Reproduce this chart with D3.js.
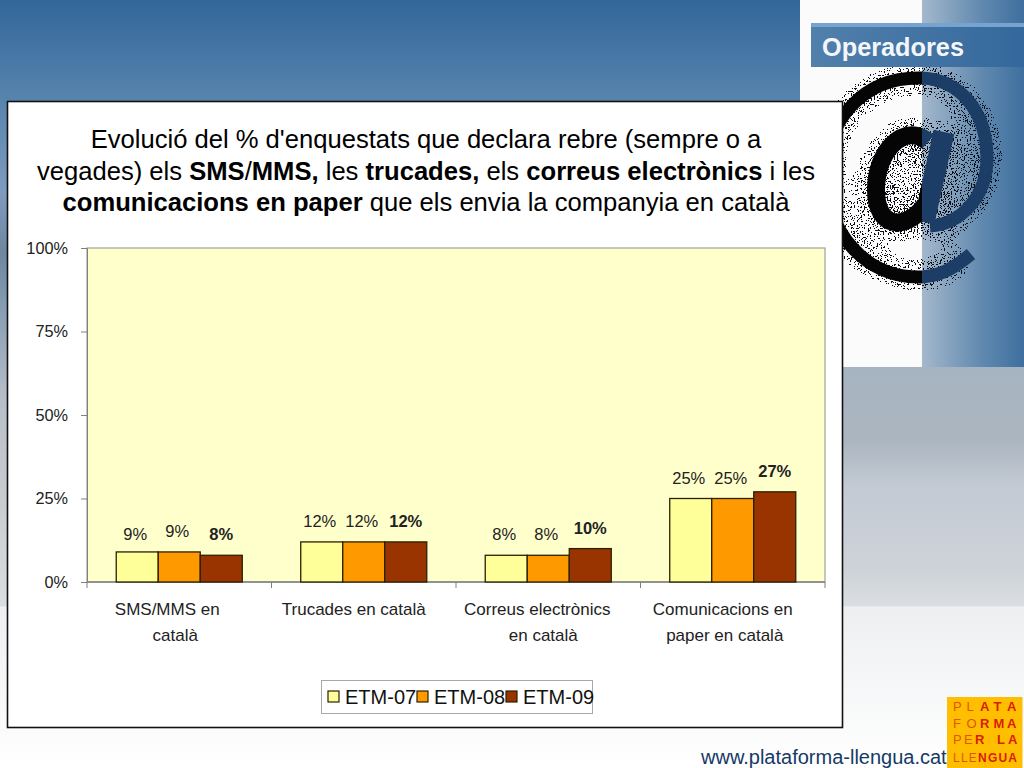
<!DOCTYPE html>
<html>
<head>
<meta charset="utf-8">
<script src="https://cdn.jsdelivr.net/npm/d3@7"></script>
<style>
  html, body { margin: 0; padding: 0; background: #fff; overflow: hidden; }
  text { font-family: "Liberation Sans", Arial, sans-serif; }
</style>
</head>
<body>
<div id="chart"></div>
<script>
// Chart data
var categories = ['SMS/MMS en|català', 'Trucades en català', 'Correus electrònics|en català', 'Comunicacions en|paper en català'];
var seriesNames = ['ETM-07', 'ETM-08', 'ETM-09'];
var etm07 = [9, 12, 8, 25];
var etm08 = [9, 12, 8, 25];
var etm09 = [8, 12, 10, 27];
var seriesValues = [etm07, etm08, etm09];
var seriesColors = ['#FFFF99', '#FF9900', '#993300'];
var yTicks = [0, 25, 50, 75, 100];

// Title lines, each a list of [text, bold]
var titleLines = [
  [["Evolució del % d'enquestats que declara rebre (sempre o a", false]],
  [["vegades) els ", false], ["SMS", true], ["/", false], ["MMS,", true], [" les ", false], ["trucades,", true], [" els ", false], ["correus electrònics", true], [" i les", false]],
  [["comunicacions en paper", true], [" que els envia la companyia en català", false]]
];
var logoLines = [
  [['P', 0], ['L', 0], ['A', 1], ['T', 1], ['A', 1]],
  [['F', 0], ['O', 0], ['R', 1], ['M', 1], ['A', 1]],
  [['P', 0], ['E', 0], ['R', 1], [' ', 0], ['L', 1], ['A', 1]]
];

var svg = d3.select('#chart').append('svg')
    .attr('width', 1024)
    .attr('height', 768)
    .style('display', 'block');
var defs = svg.append('defs');

function gradient(id, x2, y2, stops) {
  var g = defs.append('linearGradient').attr('id', id)
      .attr('x1', 0).attr('y1', 0).attr('x2', x2).attr('y2', y2);
  stops.forEach(function(s) {
    g.append('stop').attr('offset', s[0]).attr('stop-color', s[1]);
  });
}
gradient('skyGrad', 0, 1, [[0, '#33669B'], [0.13, '#5784AD'], [0.25, '#7F9CBF'], [0.33, '#6E879F'], [0.39, '#829AB0'], [0.52, '#B8BEC8'], [0.65, '#C8CCD0'], [0.789, '#DADEE1'], [0.79, '#EDEFF1'], [1, '#FFFFFF']]);
gradient('sideGrad', 1, 0, [[0, '#A4B8CC'], [0.6, '#5F88AE'], [1, '#3E6F9F']]);
gradient('lowGrad', 0, 1, [[0, '#A6B4C1'], [0.3, '#ABB5BF'], [0.5, '#C3CAD4'], [0.85, '#CED3D8'], [1, '#DADEE1']]);
gradient('barGrad', 1, 0, [[0, '#5280AC'], [1, '#34689C']]);
defs.append('filter').attr('id', 'blur').append('feGaussianBlur').attr('stdDeviation', 14);

// Speckle around the @: blurred shape alpha multiplied by thresholded noise
var speckle = defs.append('filter').attr('id', 'speckle')
    .attr('filterUnits', 'userSpaceOnUse')
    .attr('x', 800).attr('y', 40).attr('width', 224).attr('height', 327);
speckle.append('feGaussianBlur').attr('in', 'SourceAlpha').attr('stdDeviation', 15).attr('result', 'soft');
speckle.append('feTurbulence').attr('type', 'fractalNoise').attr('baseFrequency', 0.7).attr('numOctaves', 2).attr('seed', 4).attr('result', 'noise');
speckle.append('feColorMatrix').attr('in', 'noise').attr('type', 'matrix')
    .attr('values', '0 0 0 0 0  0 0 0 0 0  0 0 0 0 0  6 0 0 0 -2.9').attr('result', 'dots');
speckle.append('feComposite').attr('in', 'dots').attr('in2', 'soft').attr('operator', 'arithmetic')
    .attr('k1', 2.4).attr('k2', 0).attr('k3', 0).attr('k4', 0).attr('result', 'mask');
var transfer = speckle.append('feComponentTransfer').attr('in', 'mask').attr('result', 'thresh');
transfer.append('feFuncA').attr('type', 'discrete').attr('tableValues', '0 0 1 1');
speckle.append('feFlood').attr('flood-color', '#0A0F18').attr('result', 'ink');
speckle.append('feComposite').attr('in', 'ink').attr('in2', 'thresh').attr('operator', 'in');

defs.append('clipPath').attr('id', 'atLeft').append('rect').attr('x', 800).attr('y', 60).attr('width', 122).attr('height', 307);
defs.append('clipPath').attr('id', 'atRight').append('rect').attr('x', 922).attr('y', 60).attr('width', 102).attr('height', 307);

// Slide background
svg.append('rect').attr('width', 1024).attr('height', 768).attr('fill', 'url(#skyGrad)');
svg.append('rect').attr('x', 843).attr('y', 367).attr('width', 181).attr('height', 239).attr('fill', 'url(#lowGrad)');
svg.append('rect').attr('x', 800).attr('y', 0).attr('width', 122).attr('height', 367).attr('fill', '#FBFBFB');
svg.append('rect').attr('x', 922).attr('y', 0).attr('width', 102).attr('height', 367).attr('fill', 'url(#sideGrad)');

// The big @ sign is a picture in the slide, so it is drawn as strokes:
// black on the white panel, dark blue on the blue panel
function atRing() {
  var p = d3.path();
  p.moveTo(971, 254);
  p.bezierCurveTo(950, 272, 935, 277, 918, 277);
  p.bezierCurveTo(865, 277, 826, 232, 826, 175);
  p.bezierCurveTo(826, 118, 865, 78, 918, 78);
  p.bezierCurveTo(960, 78, 987, 112, 987, 158);
  p.bezierCurveTo(987, 198, 960, 224, 930, 226);
  return p.toString();
}
function atBowl() {
  var p = d3.path();
  p.moveTo(928, 142);
  p.bezierCurveTo(905, 122, 876, 150, 876, 190);
  p.bezierCurveTo(876, 228, 905, 232, 925, 205);
  return p.toString();
}
function atStem() {
  var p = d3.path();
  p.moveTo(944, 132);
  p.lineTo(924, 222);
  return p.toString();
}
[['atLeft', '#050505'], ['atRight', '#1C3D66']].forEach(function(side) {
  var clip = svg.append('g').attr('clip-path', 'url(#' + side[0] + ')');
  var layers = [clip.append('g').attr('filter', 'url(#speckle)'), clip.append('g')];
  layers.forEach(function(layer) {
    layer.attr('fill', 'none').attr('stroke', side[1]);
    layer.append('path').attr('d', atRing()).attr('stroke-width', 13);
    layer.append('path').attr('d', atBowl()).attr('stroke-width', 18);
    layer.append('path').attr('d', atStem()).attr('stroke-width', 21);
  });
});

// Section header
svg.append('rect').attr('x', 811).attr('y', 23).attr('width', 213).attr('height', 44).attr('fill', 'url(#barGrad)');
svg.append('rect').attr('x', 811).attr('y', 23).attr('width', 213).attr('height', 4).attr('fill', '#77A3D1');
svg.append('text').attr('x', 822).attr('y', 56)
    .attr('font-size', 25.3).attr('font-weight', 700).attr('fill', '#F4F7FA')
    .text('Operadores');

// White card
svg.append('rect').attr('x', 7.5).attr('y', 101.5).attr('width', 835).attr('height', 626)
    .attr('fill', '#fff').attr('stroke', '#111').attr('stroke-width', 1.6);

// Title
titleLines.forEach(function(line, i) {
  var t = svg.append('text')
      .attr('x', 426)
      .attr('y', 148 + i * 31.5)
      .attr('text-anchor', 'middle')
      .attr('font-size', 25.6)
      .attr('fill', '#000')
      .attr('xml:space', 'preserve')
      .style('white-space', 'pre');
  line.forEach(function(run) {
    t.append('tspan').attr('font-weight', run[1] ? 700 : 400).text(run[0]);
  });
});

// Plot
var plot = { left: 87, right: 825, top: 248, bottom: 582 };
var x0 = d3.scaleBand().domain(d3.range(categories.length)).range([plot.left, plot.right]);
var x1 = d3.scaleBand().domain(d3.range(seriesNames.length)).range([0, x0.bandwidth()]).paddingInner(0).paddingOuter(0.696);
var y = d3.scaleLinear().domain([0, 100]).range([plot.bottom, plot.top]);

svg.append('rect').attr('x', plot.left).attr('y', plot.top)
    .attr('width', plot.right - plot.left).attr('height', plot.bottom - plot.top)
    .attr('fill', '#FFFFCC').attr('stroke', '#A0A0A0').attr('stroke-width', 1.2);

var yAxis = svg.append('g').attr('transform', 'translate(' + plot.left + ',0)')
    .call(d3.axisLeft(y).tickValues(yTicks).tickSize(6).tickPadding(13).tickFormat(function(d) { return d + '%'; }));
yAxis.select('.domain').attr('stroke', '#808080');
yAxis.selectAll('line').attr('stroke', '#808080');
yAxis.selectAll('text').attr('font-size', 16.3).attr('fill', '#222').style('font-family', '"Liberation Sans", Arial, sans-serif');

var xAxisLine = svg.append('g').attr('transform', 'translate(0,' + plot.bottom + ')');
xAxisLine.append('line').attr('x1', plot.left).attr('x2', plot.right).attr('stroke', '#808080').attr('stroke-width', 1.4);
xAxisLine.selectAll('line.tick').data(d3.range(categories.length + 1)).enter().append('line')
    .attr('class', 'tick')
    .attr('x1', function(d) { return plot.left + d * x0.step(); })
    .attr('x2', function(d) { return plot.left + d * x0.step(); })
    .attr('y1', 0).attr('y2', 6).attr('stroke', '#808080');

// Category labels are not quite centred in the original
var labelShift = [[-12, -4], [-10], [-11, -5], [-10, -8]];

// Bars
var groups = svg.selectAll('g.group').data(categories).enter().append('g')
    .attr('class', 'group')
    .attr('transform', function(d, i) { return 'translate(' + x0(i) + ',0)'; });
groups.each(function(c, i) {
  var g = d3.select(this);
  seriesValues.forEach(function(vals, s) {
    g.append('rect')
        .attr('x', x1(s))
        .attr('y', y(vals[i]))
        .attr('width', x1.bandwidth())
        .attr('height', y(0) - y(vals[i]))
        .attr('fill', seriesColors[s])
        .attr('stroke', '#2A2000')
        .attr('stroke-width', 1.3);
    g.append('text')
        .attr('x', x1(s) + x1.bandwidth() / 2 + (s === 2 ? 0 : -2))
        .attr('y', y(vals[i]) - 15 + ((i === 0 && s === 0) ? 3 : 0))
        .attr('text-anchor', 'middle')
        .attr('font-size', 16.5)
        .attr('font-weight', s === 2 ? 700 : 400)
        .attr('fill', '#222')
        .text(vals[i] + '%');
  });
  // Category label, split over two lines
  c.split('|').forEach(function(part, k) {
    g.append('text')
        .attr('x', x0.bandwidth() / 2 + labelShift[i][k])
        .attr('y', 615 + k * 26)
        .attr('text-anchor', 'middle')
        .attr('font-size', 17)
        .attr('fill', '#222')
        .text(part);
  });
});

// Legend
var legend = svg.append('g');
legend.append('rect').attr('x', 321.5).attr('y', 680.5).attr('width', 271).attr('height', 33)
    .attr('fill', '#fff').attr('stroke', '#A8A8A8');
seriesNames.forEach(function(name, s) {
  var lx = 328 + s * 89;
  legend.append('rect').attr('x', lx).attr('y', 691).attr('width', 11).attr('height', 11)
      .attr('fill', seriesColors[s]).attr('stroke', '#2A2000').attr('stroke-width', 1.2);
  legend.append('text').attr('x', lx + 17).attr('y', 704)
      .attr('font-size', 20).attr('fill', '#111').text(name);
});

// Footer link and logo
svg.append('text').attr('x', 701).attr('y', 764)
    .attr('font-size', 20).attr('fill', '#153A66').text('www.plataforma-llengua.cat');
svg.append('rect').attr('x', 947).attr('y', 697).attr('width', 75.5).attr('height', 71).attr('fill', '#FFBE00');
var logoBase = [711, 728, 744];
logoLines.forEach(function(line, i) {
  line.forEach(function(ch, k) {
    svg.append('text')
        .attr('x', 953 + k * (line.length === 6 ? 11 : 13.5))
        .attr('y', logoBase[i])
        .attr('font-size', 13)
        .attr('font-weight', ch[1] ? 700 : 400)
        .attr('fill', ch[1] ? '#D81E05' : '#E2550A')
        .text(ch[0]);
  });
});
var lastLine = svg.append('text').attr('x', 953).attr('y', 762).attr('font-size', 12).attr('textLength', 64);
lastLine.append('tspan').attr('fill', '#E2550A').text('LLE');
lastLine.append('tspan').attr('fill', '#D81E05').attr('font-weight', 700).text('NGUA');
</script>
</body>
</html>
